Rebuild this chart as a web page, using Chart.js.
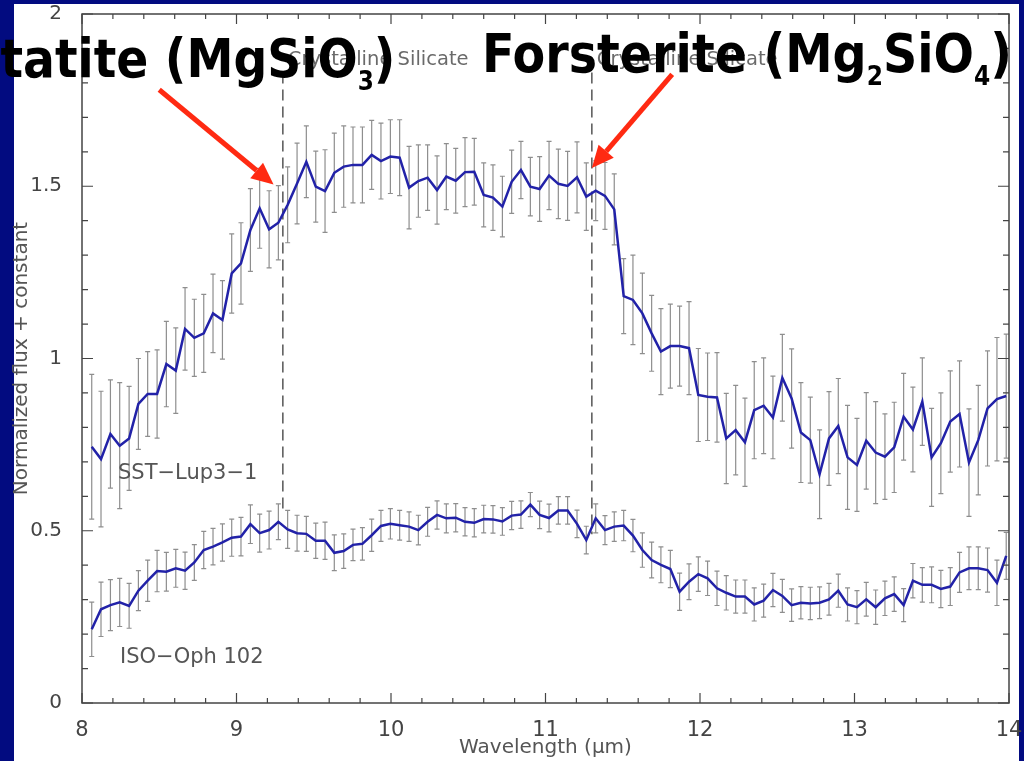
<!DOCTYPE html>
<html>
<head>
<meta charset="utf-8">
<script src="https://cdn.jsdelivr.net/npm/chart.js@4.4.1/dist/chart.umd.min.js"></script>
<style>
  html, body { margin: 0; padding: 0; }
  body { width: 1024px; height: 761px; overflow: hidden; background: #020b80; position: relative; }
  #panel { position: absolute; left: 14px; top: 4px; width: 1005px; height: 757px; background: #fff; }
  #chart { position: absolute; left: 0; top: 0; width: 1024px; height: 761px; }
  .big { position: absolute; font-family: "DejaVu Sans", sans-serif; font-weight: bold; font-size: 53px; line-height: 53px; color: #000; white-space: nowrap; }
  .big sub { font-size: 26px; vertical-align: baseline; position: relative; top: 13px; }
</style>
</head>
<body>
<div id="panel"></div>
<canvas id="chart" width="1024" height="761"></canvas>
<div class="big" id="enstatite">Ens<span id="enVis">tatite (MgSiO<sub>3</sub>)</span></div>
<div class="big" id="forsterite">Forsterite (Mg<sub>2</sub>SiO<sub>4</sub>)</div>
<script>
// wavelength grid (micron)
const wavelength = [
  8.063, 8.123, 8.184, 8.244, 8.305, 8.365, 8.425, 8.486, 8.546, 8.607,
  8.667, 8.727, 8.788, 8.848, 8.909, 8.969, 9.029, 9.090, 9.150, 9.211,
  9.271, 9.331, 9.392, 9.452, 9.513, 9.573, 9.633, 9.694, 9.754, 9.815,
  9.875, 9.935, 9.996, 10.056, 10.117, 10.177, 10.237, 10.298, 10.358, 10.419,
  10.479, 10.539, 10.600, 10.660, 10.721, 10.781, 10.841, 10.902, 10.962, 11.023,
  11.083, 11.143, 11.204, 11.264, 11.325, 11.385, 11.445, 11.506, 11.566, 11.627,
  11.687, 11.747, 11.808, 11.868, 11.929, 11.989, 12.049, 12.110, 12.170, 12.231,
  12.291, 12.351, 12.412, 12.472, 12.533, 12.593, 12.653, 12.714, 12.774, 12.835,
  12.895, 12.955, 13.016, 13.076, 13.137, 13.197, 13.257, 13.318, 13.378, 13.439,
  13.499, 13.559, 13.620, 13.680, 13.741, 13.801, 13.861, 13.922, 13.982
];

// SST-Lup3-1 (upper spectrum)
const lupFlux = [
  0.744, 0.708, 0.781, 0.747, 0.768, 0.868, 0.897, 0.897, 0.984, 0.965,
  1.086, 1.060, 1.073, 1.131, 1.112, 1.247, 1.276, 1.373, 1.436, 1.375,
  1.394, 1.446, 1.508, 1.571, 1.499, 1.486, 1.539, 1.557, 1.562, 1.562,
  1.591, 1.573, 1.586, 1.583, 1.496, 1.515, 1.525, 1.489, 1.528, 1.516,
  1.541, 1.542, 1.475, 1.467, 1.441, 1.513, 1.547, 1.499, 1.492, 1.531,
  1.507, 1.501, 1.526, 1.470, 1.487, 1.472, 1.433, 1.181, 1.170, 1.131,
  1.073, 1.020, 1.036, 1.036, 1.030, 0.894, 0.889, 0.887, 0.768, 0.792,
  0.757, 0.850, 0.863, 0.829, 0.944, 0.884, 0.785, 0.763, 0.664, 0.768,
  0.804, 0.713, 0.691, 0.761, 0.727, 0.715, 0.742, 0.831, 0.794, 0.875,
  0.713, 0.754, 0.817, 0.839, 0.698, 0.763, 0.855, 0.882, 0.891
];
const lupErr = [
  0.21, 0.197, 0.157, 0.183, 0.151, 0.132, 0.123, 0.128, 0.124, 0.124,
  0.12, 0.112, 0.113, 0.114, 0.114, 0.115, 0.118, 0.12, 0.116, 0.112,
  0.108, 0.11, 0.117, 0.104, 0.103, 0.12, 0.115, 0.118, 0.11, 0.11,
  0.10, 0.11, 0.107, 0.11, 0.12, 0.105, 0.095, 0.099, 0.096, 0.094,
  0.10, 0.097, 0.093, 0.095, 0.088, 0.092, 0.083, 0.085, 0.094, 0.099,
  0.101, 0.10, 0.103, 0.098, 0.087, 0.097, 0.103, 0.109, 0.13, 0.117,
  0.11, 0.125, 0.122, 0.116, 0.135, 0.135, 0.127, 0.13, 0.131, 0.13,
  0.128, 0.141, 0.139, 0.12, 0.126, 0.144, 0.145, 0.125, 0.129, 0.136,
  0.138, 0.151, 0.135, 0.14, 0.148, 0.124, 0.131, 0.126, 0.123, 0.127,
  0.142, 0.146, 0.147, 0.154, 0.156, 0.159, 0.167, 0.179, 0.18
];

// ISO-Oph 102 (lower spectrum)
const ophFlux = [
  0.214, 0.272, 0.284, 0.292, 0.282, 0.326, 0.355, 0.383, 0.381, 0.391,
  0.384, 0.408, 0.444, 0.454, 0.466, 0.480, 0.483, 0.519, 0.493, 0.502,
  0.526, 0.504, 0.493, 0.491, 0.471, 0.471, 0.436, 0.441, 0.459, 0.462,
  0.487, 0.514, 0.520, 0.516, 0.512, 0.502, 0.526, 0.546, 0.536, 0.538,
  0.526, 0.523, 0.534, 0.533, 0.527, 0.544, 0.547, 0.576, 0.546, 0.537,
  0.559, 0.559, 0.520, 0.473, 0.536, 0.502, 0.512, 0.515, 0.486, 0.444,
  0.415, 0.401, 0.389, 0.323, 0.352, 0.374, 0.362, 0.333, 0.320, 0.309,
  0.309, 0.286, 0.297, 0.328, 0.311, 0.284, 0.291, 0.289, 0.291, 0.301,
  0.326, 0.286, 0.278, 0.301, 0.278, 0.304, 0.316, 0.284, 0.355, 0.343,
  0.343, 0.331, 0.338, 0.379, 0.391, 0.391, 0.386, 0.349, 0.427
];
const ophErr = [
  0.079, 0.079, 0.074, 0.07, 0.065, 0.058, 0.06, 0.06, 0.056, 0.055,
  0.054, 0.052, 0.054, 0.053, 0.054, 0.054, 0.056, 0.056, 0.055, 0.055,
  0.052, 0.055, 0.052, 0.051, 0.051, 0.054, 0.052, 0.05, 0.046, 0.047,
  0.047, 0.045, 0.044, 0.043, 0.043, 0.043, 0.042, 0.041, 0.042, 0.041,
  0.041, 0.041, 0.040, 0.040, 0.040, 0.041, 0.040, 0.035, 0.040, 0.040,
  0.040, 0.040, 0.040, 0.040, 0.042, 0.042, 0.043, 0.044, 0.047, 0.05,
  0.052, 0.052, 0.054, 0.054, 0.052, 0.05, 0.05, 0.05, 0.05, 0.048,
  0.048, 0.048, 0.048, 0.048, 0.048, 0.047, 0.047, 0.047, 0.046, 0.046,
  0.048, 0.048, 0.048, 0.049, 0.05, 0.05, 0.05, 0.048, 0.05, 0.05,
  0.052, 0.054, 0.055, 0.058, 0.062, 0.062, 0.064, 0.066, 0.068
];

// axis tick labels
const xTickLabels = [8, 9, 10, 11, 12, 13, 14];
const yTickLabels = [0, 0.5, 1, 1.5, 2];

// crystalline silicate features (micron) and the extent of their marker lines
const featureWavelengths = [9.3, 11.3];
const featureLineBottom = [0.56, 0.49];
const featureLineTop = [1.83, 1.83];
const featureNames = ["Crystalline Silicate", "Crystalline Silicate"];

// spectrum names
const spectrumNames = ["SST\u2212Lup3\u22121", "ISO\u2212Oph 102"];
const nameAt = [[8.233, 0.665], [8.246, 0.131]];

// red arrows, in data units
const arrowFrom = [[8.50, 1.78], [11.82, 1.825]];
const arrowTo = [[9.24, 1.505], [11.30, 1.553]];

const isOn = (v, list) => list.some(t => Math.abs(v - t) < 1e-6);

// error bars, dashed feature lines, frame with inward ticks, labels, arrows
const decorPlugin = {
    id: "decor",
    beforeDatasetsDraw(chart) {
        const { ctx, scales: { x, y } } = chart;
        ctx.save();

        ctx.strokeStyle = "#555";
        ctx.lineWidth = 1.5;
        ctx.setLineDash([11, 6]);
        featureWavelengths.forEach((w, i) => {
            const px = x.getPixelForValue(w);
            ctx.beginPath();
            ctx.moveTo(px, y.getPixelForValue(featureLineTop[i]));
            ctx.lineTo(px, y.getPixelForValue(featureLineBottom[i]));
            ctx.stroke();
        });
        ctx.setLineDash([]);

        ctx.strokeStyle = "#8e8e8e";
        ctx.lineWidth = 1.2;
        [[lupFlux, lupErr], [ophFlux, ophErr]].forEach(([f, e]) => {
            wavelength.forEach((w, i) => {
                const px = x.getPixelForValue(w);
                const top = y.getPixelForValue(f[i] + e[i]);
                const bot = y.getPixelForValue(f[i] - e[i]);
                ctx.beginPath();
                ctx.moveTo(px, top); ctx.lineTo(px, bot);
                ctx.moveTo(px - 2.5, top); ctx.lineTo(px + 2.5, top);
                ctx.moveTo(px - 2.5, bot); ctx.lineTo(px + 2.5, bot);
                ctx.stroke();
            });
        });
        ctx.restore();
    },
    afterDraw(chart) {
        const { ctx, chartArea: a, scales: { x, y } } = chart;
        ctx.save();

        // frame
        ctx.strokeStyle = "#444";
        ctx.lineWidth = 1.5;
        ctx.strokeRect(a.left, a.top, a.right - a.left, a.bottom - a.top);

        // inward ticks on all four sides
        ctx.lineWidth = 1.2;
        ctx.beginPath();
        x.ticks.forEach(t => {
            const px = x.getPixelForValue(t.value);
            const len = isOn(t.value, xTickLabels) ? 10 : 5;
            ctx.moveTo(px, a.bottom); ctx.lineTo(px, a.bottom - len);
            ctx.moveTo(px, a.top); ctx.lineTo(px, a.top + len);
        });
        y.ticks.forEach(t => {
            const py = y.getPixelForValue(t.value);
            const len = isOn(t.value, yTickLabels) ? 11 : 6;
            ctx.moveTo(a.left, py); ctx.lineTo(a.left + len, py);
            ctx.moveTo(a.right, py); ctx.lineTo(a.right - len, py);
        });
        ctx.stroke();

        // small texts
        ctx.fillStyle = "#555";
        ctx.textAlign = "left";
        ctx.textBaseline = "middle";
        ctx.font = '21px "DejaVu Sans"';
        spectrumNames.forEach((s, i) => {
            ctx.fillText(s, x.getPixelForValue(nameAt[i][0]), y.getPixelForValue(nameAt[i][1]));
        });
        ctx.fillStyle = "#6a6a6a";
        ctx.font = '19.5px "DejaVu Sans"';
        featureNames.forEach((s, i) => {
            ctx.fillText(s, x.getPixelForValue(featureWavelengths[i]) + 5, y.getPixelForValue(1.866));
        });

        // red arrows
        ctx.strokeStyle = "#ff2a12";
        ctx.fillStyle = "#ff2a12";
        ctx.lineWidth = 5;
        ctx.lineCap = "butt";
        arrowFrom.forEach((f, i) => {
            const x0 = x.getPixelForValue(f[0]), y0 = y.getPixelForValue(f[1]);
            const x1 = x.getPixelForValue(arrowTo[i][0]), y1 = y.getPixelForValue(arrowTo[i][1]);
            const ang = Math.atan2(y1 - y0, x1 - x0);
            const head = 22, half = 10;
            const bx = x1 - head * Math.cos(ang), by = y1 - head * Math.sin(ang);
            ctx.beginPath();
            ctx.moveTo(x0, y0); ctx.lineTo(bx, by);
            ctx.stroke();
            ctx.beginPath();
            ctx.moveTo(x1, y1);
            ctx.lineTo(bx + half * Math.sin(ang), by - half * Math.cos(ang));
            ctx.lineTo(bx - half * Math.sin(ang), by + half * Math.cos(ang));
            ctx.closePath();
            ctx.fill();
        });
        ctx.restore();
    }
};

function makeSeries(flux) {
    return wavelength.map((w, i) => ({ x: w, y: flux[i] }));
}

const lineStyle = {
    borderColor: "#2222a8",
    borderWidth: 2.5,
    pointRadius: 0,
    tension: 0,
    fill: false
};

new Chart(document.getElementById("chart").getContext("2d"), {
    type: "line",
    data: {
        datasets: [
            Object.assign({ label: "SST-Lup3-1", data: makeSeries(lupFlux) }, lineStyle),
            Object.assign({ label: "ISO-Oph 102", data: makeSeries(ophFlux) }, lineStyle)
        ]
    },
    options: {
        responsive: false,
        animation: false,
        layout: { autoPadding: false, padding: { left: 10, right: 15, top: 14, bottom: 0 } },
        plugins: { legend: { display: false }, tooltip: { enabled: false } },
        scales: {
            x: {
                type: "linear",
                min: 8,
                max: 14,
                grid: { display: false },
                border: { display: false },
                ticks: {
                    stepSize: 0.2,
                    autoSkip: false,
                    maxRotation: 0,
                    padding: 7,
                    color: "#444",
                    font: { family: "DejaVu Sans", size: 21 },
                    callback: v => isOn(v, xTickLabels) ? String(Math.round(v)) : ""
                },
                title: {
                    display: true,
                    text: "Wavelength (\u03bcm)",
                    color: "#555",
                    font: { family: "DejaVu Sans", size: 20 },
                    padding: { top: 0, bottom: 1 }
                },
                // fixed box, no extra room for the end labels
                afterFit: s => { s.height = 58; s.paddingLeft = 0; s.paddingRight = 0; }
            },
            y: {
                min: 0,
                max: 2,
                grid: { display: false },
                border: { display: false },
                ticks: {
                    stepSize: 0.1,
                    autoSkip: false,
                    padding: 12,
                    color: "#444",
                    font: { family: "DejaVu Sans", size: 20 },
                    callback: v => isOn(v, yTickLabels) ? String(Math.round(v * 10) / 10) : ""
                },
                title: {
                    display: true,
                    text: "Normalized flux + constant",
                    color: "#555",
                    font: { family: "DejaVu Sans", size: 20 },
                    padding: { top: 0, bottom: 0 }
                },
                afterFit: s => { s.width = 72; s.paddingTop = 0; s.paddingBottom = 0; }
            }
        }
    },
    plugins: [decorPlugin]
});

// big slide annotations, squeezed to the width they take in the slide
function placeLabels() {
    const fo = document.getElementById("forsterite");
    fo.style.left = "482px";
    fo.style.top = "27px";
    fo.style.transformOrigin = "left top";
    fo.style.transform = "scaleX(" + (530 / fo.getBoundingClientRect().width) + ")";

    // only "tatite (MgSiO3)" is inside the slide; it spans x 0..395
    const en = document.getElementById("enstatite");
    const vis = document.getElementById("enVis").getBoundingClientRect().width;
    en.style.right = (1024 - 395) + "px";
    en.style.top = "32px";
    en.style.transformOrigin = "right top";
    en.style.transform = "scaleX(" + (395 / vis) + ")";
}
placeLabels();
</script>
</body>
</html>
